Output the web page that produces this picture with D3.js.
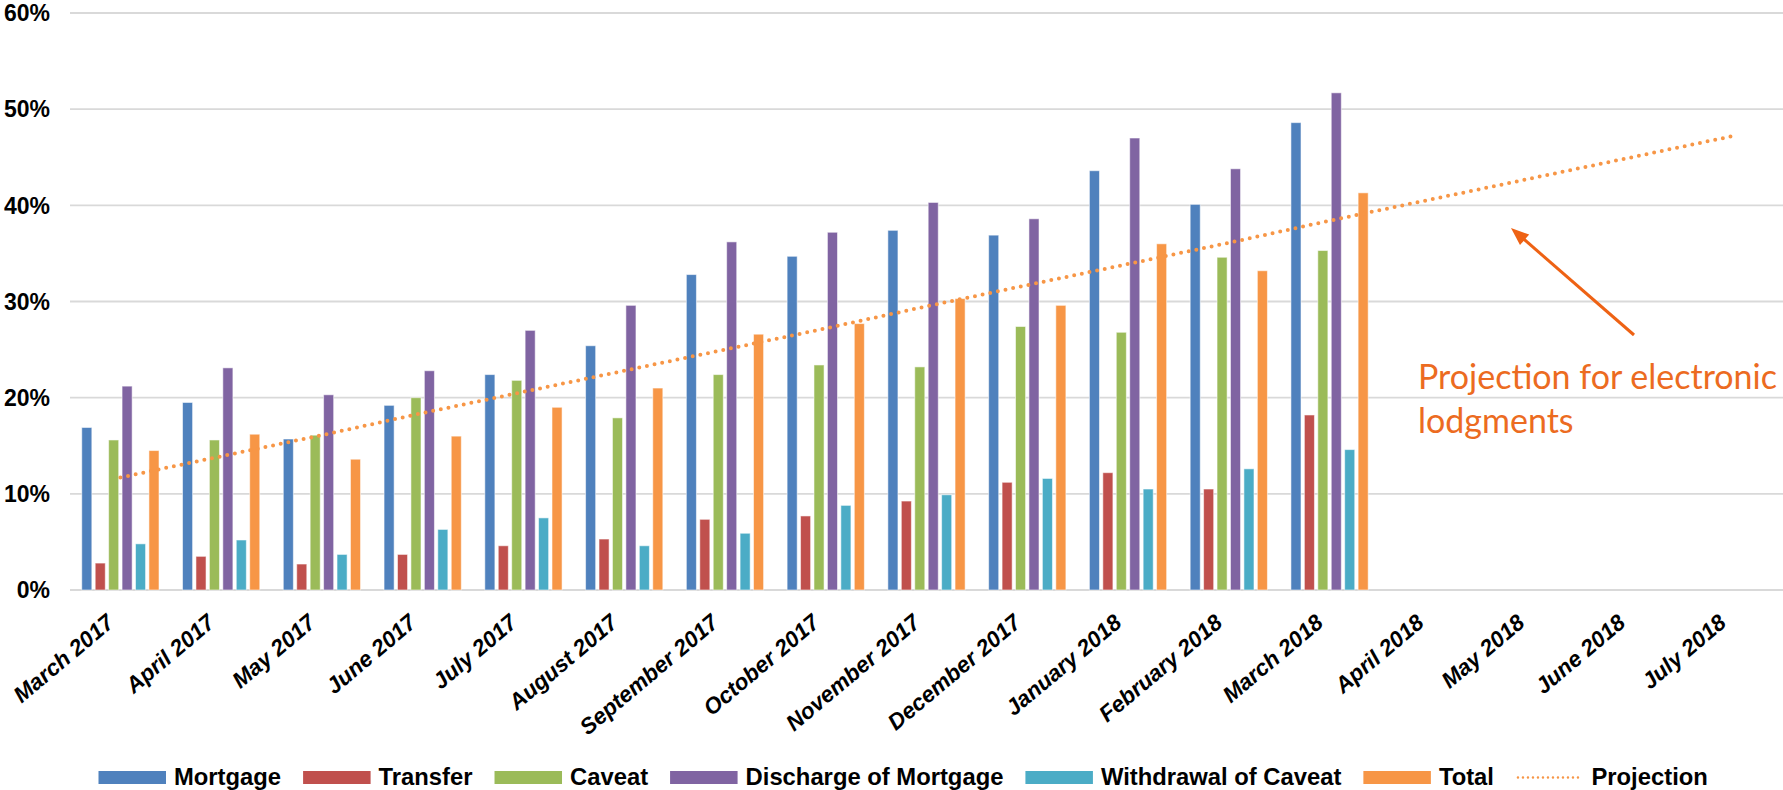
<!DOCTYPE html>
<html>
<head>
<meta charset="utf-8">
<script src="https://cdn.jsdelivr.net/npm/d3@7"></script>
<style>
  body { margin: 0; background: #fff; }
  text { font-family: "Liberation Sans", Arial, sans-serif; }
</style>
</head>
<body>
<svg id="chart"></svg>
<script>
var width = 1783, height = 790;

// months on the x axis (last four only carry the projection)
var months = ["March 2017", "April 2017", "May 2017", "June 2017", "July 2017", "August 2017",
  "September 2017", "October 2017", "November 2017", "December 2017", "January 2018",
  "February 2018", "March 2018", "April 2018", "May 2018", "June 2018", "July 2018"];

// percentages
var mortgage   = [16.9, 19.5, 15.7, 19.2, 22.4, 25.4, 32.8, 34.7, 37.4, 36.9, 43.6, 40.1, 48.6];
var transfer   = [2.8, 3.5, 2.7, 3.7, 4.6, 5.3, 7.35, 7.7, 9.25, 11.2, 12.2, 10.5, 18.2];
var caveat     = [15.6, 15.6, 16.1, 20.0, 21.8, 17.9, 22.4, 23.4, 23.2, 27.4, 26.8, 34.6, 35.3];
var discharge  = [21.2, 23.1, 20.3, 22.8, 27.0, 29.6, 36.2, 37.2, 40.3, 38.6, 47.0, 43.8, 51.7];
var withdrawal = [4.8, 5.2, 3.7, 6.3, 7.5, 4.6, 5.9, 8.8, 9.9, 11.6, 10.5, 12.6, 14.6];
var total      = [14.5, 16.2, 13.6, 16.0, 19.0, 21.0, 26.6, 27.7, 30.3, 29.6, 36.0, 33.2, 41.3];
var projection = [11.7, 13.9, 16.1, 18.4, 20.6, 22.8, 25.0, 27.2, 29.5, 31.7, 33.9, 36.1, 38.4,
  40.6, 42.8, 45.0, 47.2];

var seriesNames = ["Mortgage", "Transfer", "Caveat", "Discharge of Mortgage", "Withdrawal of Caveat", "Total"];
var seriesValues = [mortgage, transfer, caveat, discharge, withdrawal, total];
var colors = ["#4F81BD", "#C0504D", "#9BBB59", "#8064A2", "#4BACC6", "#F79646"];
var yTicks = [0, 10, 20, 30, 40, 50, 60];

// plot area (window.top is reserved, so no bare "top")
var plotLeft = 70, plotRight = width, plotTop = 13, plotBottom = 590;

var svg = d3.select("#chart").attr("width", width).attr("height", height);

var x0 = d3.scaleBand().domain(months).range([plotLeft, plotRight]).paddingInner(0.2).paddingOuter(0.1);
var x1 = d3.scaleBand().domain(seriesNames).range([0, x0.bandwidth()]).paddingInner(0.25).paddingOuter(0.125);
var y = d3.scaleLinear().domain([0, 60]).range([plotBottom, plotTop]);

// grid lines
svg.append("g")
  .selectAll("line")
  .data(yTicks)
  .enter()
  .append("line")
  .attr("x1", plotLeft).attr("x2", plotRight)
  .attr("y1", d => y(d)).attr("y2", d => y(d))
  .attr("stroke", "#d9d9d9")
  .attr("stroke-width", d => d == 0 ? 2.2 : 1.8);

// y labels
svg.append("g")
  .selectAll("text")
  .data(yTicks)
  .enter()
  .append("text")
  .attr("x", 50)
  .attr("y", d => y(d))
  .attr("dy", "0.36em")
  .attr("text-anchor", "end")
  .attr("font-size", 23)
  .attr("font-weight", "bold")
  .text(d => d + "%");

// x labels, rotated
svg.append("g")
  .selectAll("text")
  .data(months)
  .enter()
  .append("text")
  .attr("transform", d => "translate(" + (x0(d) + x0.bandwidth() / 2 - 5) + "," + 625 + ") rotate(-40)")
  .attr("text-anchor", "end")
  .attr("font-size", 22.5)
  .attr("font-weight", "bold")
  .attr("font-style", "italic")
  .text(d => d);

// bars
seriesValues.forEach(function(vals, si) {
  svg.append("g")
    .selectAll("rect")
    .data(vals)
    .enter()
    .append("rect")
    .attr("x", (d, i) => x0(months[i]) + x1(seriesNames[si]))
    .attr("y", d => y(d))
    .attr("width", x1.bandwidth())
    .attr("height", d => plotBottom - y(d))
    .attr("fill", colors[si])
    .attr("stroke", "rgba(255,255,255,0.55)")
    .attr("stroke-width", 1);
});

// projection trend (dotted)
var line = d3.line()
  .x((d, i) => x0(months[i]) + x0.bandwidth() / 2)
  .y(d => y(d));

svg.append("path")
  .datum(projection)
  .attr("d", line)
  .attr("fill", "none")
  .attr("stroke", "#F79646")
  .attr("stroke-width", 4)
  .attr("stroke-linecap", "round")
  .attr("stroke-dasharray", "0 7.8");

// annotation arrow
var tail = [1634, 335], tip = [1511, 228];
var ang = Math.atan2(tip[1] - tail[1], tip[0] - tail[0]);
var headLen = 18, headW = 7;
var base = [tip[0] - headLen * Math.cos(ang), tip[1] - headLen * Math.sin(ang)];
svg.append("line")
  .attr("x1", tail[0]).attr("y1", tail[1])
  .attr("x2", base[0] + 2 * Math.cos(ang)).attr("y2", base[1] + 2 * Math.sin(ang))
  .attr("stroke", "#EE6214")
  .attr("stroke-width", 3);
svg.append("path")
  .attr("d", "M" + tip[0] + "," + tip[1] +
    "L" + (base[0] + headW * Math.sin(ang)) + "," + (base[1] - headW * Math.cos(ang)) +
    "L" + (base[0] - headW * Math.sin(ang)) + "," + (base[1] + headW * Math.cos(ang)) + "Z")
  .attr("fill", "#EE6214");

var note = svg.append("text")
  .attr("fill", "#EC6B21")
  .attr("font-size", 34)
  .style("font-family", "Lato, 'Open Sans', sans-serif");
note.append("tspan").attr("x", 1418).attr("y", 389).text("Projection for electronic");
note.append("tspan").attr("x", 1418).attr("y", 433).text("lodgments");

// legend
var legendItems = seriesNames.concat(["Projection"]);
var lx = 98.5, ly = 771;
legendItems.forEach(function(name, i) {
  var g = svg.append("g");
  if (i < colors.length) {
    g.append("rect")
      .attr("x", lx).attr("y", ly)
      .attr("width", 67.5).attr("height", 13)
      .attr("fill", colors[i]);
  } else {
    g.append("line")
      .attr("x1", lx + 2).attr("x2", lx + 66)
      .attr("y1", ly + 6.5).attr("y2", ly + 6.5)
      .attr("stroke", "#F79646")
      .attr("stroke-width", 2.5)
      .attr("stroke-linecap", "round")
      .attr("stroke-dasharray", "0 5");
  }
  var t = g.append("text")
    .attr("x", lx + 75.5)
    .attr("y", 784.5)
    .attr("font-size", 23.8)
    .attr("font-weight", "bold")
    .text(name);
  lx = lx + 75.5 + t.node().getComputedTextLength() + 22;
});
</script>
</body>
</html>
